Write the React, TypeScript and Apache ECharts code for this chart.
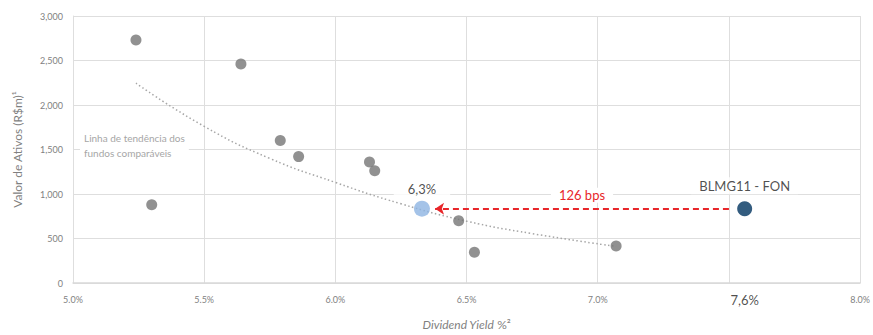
import React, { useEffect, useRef } from "react";
import * as echarts from "echarts";

// Comparable funds: dividend yield (%) and asset value (R$m)
const peerYields = [5.24, 5.3, 5.64, 5.79, 5.86, 6.13, 6.15, 6.47, 6.53, 7.07];
const peerAssets = [2730, 880, 2460, 1600, 1420, 1360, 1260, 700, 345, 415];

// Trend line
const trendYields = [5.24, 5.5, 5.75, 6.0, 6.25, 6.5, 6.75, 7.07];
const trendAssets = [2245, 1760, 1400, 1130, 890, 695, 555, 411];

// Highlighted points
const targetYield = 6.33;
const targetAssets = 835;
const targetLabel = "6,3%";
const fundYield = 7.56;
const fundAssets = 835;
const fundName = "BLMG11 - FON";
const fundAxisLabel = "7,6%";

// Arrow between them
const arrowFrom = 7.5;
const arrowTo = 6.38;
const spreadLabel = "126 bps";

const xTicks = [5.0, 5.5, 6.0, 6.5, 7.0, 7.5, 8.0];
const yTicks = [0, 500, 1000, 1500, 2000, 2500, 3000];

const FONT = "Lato";
const GRAY = "#7f7f7f";

export default function App() {
  const ref = useRef<HTMLDivElement>(null);
  useEffect(() => {
    if (!ref.current) return;
    const chart = echarts.init(ref.current, null, { renderer: "svg" });
    chart.setOption({
      animation: false,
      textStyle: { fontFamily: FONT },
      grid: { left: 73, right: 9, top: 16, bottom: 49, containLabel: false },
      xAxis: {
        type: "value",
        min: xTicks[0],
        max: xTicks[xTicks.length - 1],
        interval: 0.5,
        name: "{i|Dividend Yield} {n|%²}",
        nameLocation: "middle",
        nameGap: 35,
        nameTextStyle: {
          rich: {
            i: { fontStyle: "italic", color: GRAY, fontSize: 12, fontFamily: FONT },
            n: { color: GRAY, fontSize: 12, fontFamily: FONT },
          },
        },
        axisLine: { show: true, lineStyle: { color: "#d9d9d9", width: 1.5 } },
        axisTick: { show: false },
        splitLine: { show: true, lineStyle: { color: "#dedede" } },
        axisLabel: {
          color: GRAY,
          fontSize: 9,
          margin: 12,
          formatter: (v: number) => (Math.abs(v - 7.5) < 1e-6 ? "" : v.toFixed(1) + "%"),
        },
      },
      yAxis: {
        type: "value",
        min: yTicks[0],
        max: yTicks[yTicks.length - 1],
        interval: 500,
        name: "Valor de Ativos (R$m)¹",
        nameLocation: "middle",
        nameGap: 50,
        nameTextStyle: { color: GRAY, fontSize: 12 },
        axisLine: { show: true, lineStyle: { color: "#dedede" } },
        axisTick: { show: false },
        splitLine: { show: true, lineStyle: { color: "#dedede" } },
        axisLabel: {
          color: GRAY,
          fontSize: 9,
          margin: 10,
          formatter: (v: number) => v.toLocaleString("en-US"),
        },
      },
      series: [
        {
          type: "line",
          data: trendYields.map((x, i) => [x, trendAssets[i]]),
          smooth: true,
          showSymbol: false,
          symbol: "none",
          lineStyle: { color: "#a6a6a6", width: 1.5, type: [1.5, 2.5] },
          z: 1,
        },
        {
          type: "scatter",
          data: peerYields.map((x, i) => [x, peerAssets[i]]),
          symbolSize: 11,
          itemStyle: { color: "#767676" },
          z: 3,
        },
        {
          type: "scatter",
          data: [[targetYield, targetAssets]],
          symbolSize: 16,
          itemStyle: { color: "#8db4e2" },
          label: {
            show: true,
            position: "top",
            distance: 4,
            formatter: targetLabel,
            color: "#1f1f1f",
            fontSize: 13,
            backgroundColor: "#ffffff",
            padding: [1, 14, 1, 14],
          },
          z: 4,
        },
        {
          type: "scatter",
          data: [[fundYield, fundAssets]],
          symbolSize: 15,
          itemStyle: { color: "#00335f" },
          label: {
            show: true,
            position: "top",
            distance: 7,
            formatter: fundName,
            color: "#1f1f1f",
            fontSize: 13,
            backgroundColor: "#ffffff",
            padding: [2, 8, 2, 8],
          },
          markLine: {
            silent: true,
            symbol: ["none", "arrow"],
            symbolSize: [9, 9],
            lineStyle: { color: "#e8262a", type: [6, 4], width: 1.8 },
            label: {
              show: true,
              position: "insideMiddleTop",
              formatter: spreadLabel,
              color: "#e8262a",
              fontSize: 13,
              backgroundColor: "#ffffff",
              padding: [1, 8, 1, 8],
              distance: 6,
            },
            data: [[{ coord: [arrowFrom, fundAssets] }, { coord: [arrowTo, fundAssets] }]],
          },
          z: 4,
        },
        {
          type: "scatter",
          data: [[fundYield, 0]],
          symbolSize: 0,
          silent: true,
          label: {
            show: true,
            position: "bottom",
            distance: 10,
            formatter: fundAxisLabel,
            color: "#1f1f1f",
            fontSize: 13,
          },
        },
      ],
      graphic: [
        {
          type: "text",
          left: 80,
          top: 130,
          z: 10,
          style: {
            text: "Linha de tendência dos\nfundos comparáveis",
            fill: "#a6a6a6",
            fontSize: 10,
            fontFamily: FONT,
            align: "center",
            lineHeight: 15,
            backgroundColor: "#ffffff",
            padding: [0, 4, 0, 4],
          },
        },
      ],
    });
    return () => chart.dispose();
  }, []);
  return <div ref={ref} style={{ width: 873, height: 335, position: "absolute", left: 0, top: 0 }} />;
}
